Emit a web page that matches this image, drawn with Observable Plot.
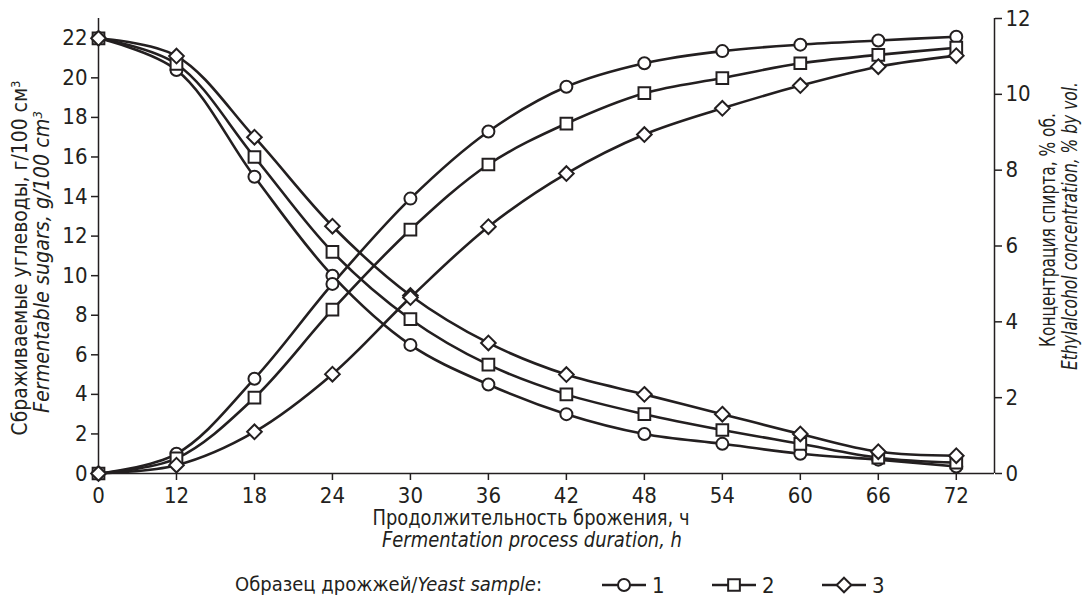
<!DOCTYPE html>
<html>
<head>
<meta charset="utf-8">
<script src="https://cdn.jsdelivr.net/npm/d3@7"></script>
<script src="https://cdn.jsdelivr.net/npm/@observablehq/plot@0.6"></script>
<style>
  html, body { margin: 0; padding: 0; background: #fff; }
  #chart { width: 1085px; }
  svg text { fill: #231f20; }
</style>
</head>
<body>
<div id="chart"></div>
<script>
// ---- data ----
const hours = [0, 12, 18, 24, 30, 36, 42, 48, 54, 60, 66, 72];
const sugar1 = [22, 20.4, 15.0, 10.0, 6.5, 4.5, 3.0, 2.0, 1.5, 1.0, 0.7, 0.35];
const sugar2 = [22, 20.7, 16.0, 11.2, 7.8, 5.5, 4.0, 3.0, 2.2, 1.5, 0.8, 0.55];
const sugar3 = [22, 21.1, 17.0, 12.5, 9.0, 6.6, 5.0, 4.0, 3.0, 2.0, 1.1, 0.9];
const alcohol1 = [0, 0.52, 2.5, 5.0, 7.25, 9.02, 10.2, 10.82, 11.14, 11.31, 11.42, 11.52];
const alcohol2 = [0, 0.4, 2.0, 4.32, 6.43, 8.15, 9.23, 10.03, 10.43, 10.82, 11.04, 11.23];
const alcohol3 = [0, 0.22, 1.1, 2.62, 4.64, 6.51, 7.91, 8.94, 9.63, 10.23, 10.73, 11.02];
const leftTicks = [0, 2, 4, 6, 8, 10, 12, 14, 16, 18, 20, 22];
const rightTicks = [0, 2, 4, 6, 8, 10, 12];
const sampleNames = ["1", "2", "3"];
const symbols = ["circle", "square", "diamond2"];

const leftMax = 23, rightMax = 12;
const K = leftMax / rightMax; // alcohol -> left scale

const rows = hours.map((h, i) => ({
  i, h,
  s1: sugar1[i], s2: sugar2[i], s3: sugar3[i],
  a1: alcohol1[i] * K, a2: alcohol2[i] * K, a3: alcohol3[i] * K
}));

const FONT = "'Liberation Sans Narrow', 'DejaVu Sans Condensed', 'Roboto', sans-serif";
const INK = "#231f20";
const W = 1085, H = 555;
const xMax = 11.49;

const series = [
  {y: "s1", sym: "circle", r: 6},
  {y: "s2", sym: "square", r: 6.6},
  {y: "s3", sym: "diamond2", r: 6.6},
  {y: "a1", sym: "circle", r: 6},
  {y: "a2", sym: "square", r: 6.6},
  {y: "a3", sym: "diamond2", r: 6.6}
];

const chart = Plot.plot({
  width: W,
  height: H,
  marginLeft: 98,
  marginRight: 91,
  marginTop: 18,
  marginBottom: H - 473,
  style: {fontFamily: FONT, fontSize: "22px", color: INK, background: "#fff", overflow: "visible"},
  x: {domain: [0, xMax]},
  y: {domain: [0, leftMax]},
  marks: [
    Plot.ruleY([0], {stroke: INK, strokeWidth: 1.5}),
    Plot.ruleX([0, xMax], {stroke: INK, strokeWidth: 1.5}),
    Plot.axisX(hours.map((h, i) => i), {
      tickFormat: i => hours[i], tickSize: 7, tickPadding: 7, label: null,
      stroke: INK, strokeWidth: 1.5, fontSize: 22
    }),
    Plot.axisY(leftTicks, {
      anchor: "left", tickSize: 7, tickPadding: 4, label: null,
      stroke: INK, strokeWidth: 1.5, fontSize: 22
    }),
    Plot.axisY(rightTicks.map(v => v * K), {
      anchor: "right", tickSize: 7, tickPadding: 4, label: null,
      tickFormat: v => Math.round(v / K),
      stroke: INK, strokeWidth: 1.5, fontSize: 22
    }),
    ...series.map(s => Plot.line(rows, {
      x: "i", y: s.y, curve: "catmull-rom", stroke: INK, strokeWidth: 2.6
    })),
    ...series.map(s => Plot.dot(rows, {
      x: "i", y: s.y, symbol: s.sym, r: s.r, fill: "white", stroke: INK, strokeWidth: 2
    }))
  ]
});

document.getElementById("chart").appendChild(chart);

// ---- axis titles ----
const svg = d3.select(chart);
const t = svg.append("g").attr("font-family", FONT).attr("fill", INK);

function addParts(txt, parts, size) {
  parts.forEach(p => {
    const ts = txt.append("tspan").text(p.t);
    if (p.i) ts.attr("font-style", "italic");
    if (p.sup) ts.attr("baseline-shift", "super").attr("font-size", size * 0.62);
  });
}
function rotLabel(x, y, parts, size, len) {
  const txt = t.append("text")
    .attr("transform", `translate(${x},${y}) rotate(-90)`)
    .attr("text-anchor", "middle")
    .attr("font-size", size)
    .attr("textLength", len).attr("lengthAdjust", "spacingAndGlyphs");
  addParts(txt, parts, size);
}
function hLabel(x, y, parts, size, len) {
  const txt = t.append("text")
    .attr("x", x).attr("y", y)
    .attr("text-anchor", "middle")
    .attr("font-size", size)
    .attr("textLength", len).attr("lengthAdjust", "spacingAndGlyphs");
  addParts(txt, parts, size);
}

rotLabel(27, 258, [{t: "Сбраживаемые углеводы, г/100 см"}, {t: "3", sup: true}], 21, 355);
rotLabel(49, 262, [{t: "Fermentable sugars, g/100 cm", i: true}, {t: "3", sup: true, i: true}], 21, 302);
rotLabel(1055, 230, [{t: "Концентрация спирта, % об."}], 21, 234);
rotLabel(1077, 226, [{t: "Ethylalcohol concentration, % by vol.", i: true}], 21, 288);
hLabel(531, 525, [{t: "Продолжительность брожения, ч"}], 21, 317);
hLabel(532, 547, [{t: "Fermentation process duration, h", i: true}], 21, 300);

// ---- legend ----
const leg = d3.select("#chart").append("svg")
  .attr("width", W).attr("height", 48)
  .style("display", "block")
  .attr("font-family", FONT);
const lt = leg.append("text").attr("x", 235).attr("y", 36).attr("font-size", 20).attr("fill", INK);
lt.append("tspan").text("Образец дрожжей/");
lt.append("tspan").text("Yeast sample").attr("font-style", "italic");
lt.append("tspan").text(":");

const legX = [602, 712, 822];
const symGen = {
  circle: d3.symbol(d3.symbolCircle, Math.PI * 36),
  square: d3.symbol(d3.symbolSquare, Math.PI * 6.6 * 6.6),
  diamond2: d3.symbol(d3.symbolDiamond2, Math.PI * 6.6 * 6.6)
};
sampleNames.forEach((name, k) => {
  const x0 = legX[k];
  const g = leg.append("g");
  g.append("line").attr("x1", x0).attr("x2", x0 + 44).attr("y1", 30).attr("y2", 30)
    .attr("stroke", INK).attr("stroke-width", 2.6);
  g.append("path").attr("d", symGen[symbols[k]]())
    .attr("transform", `translate(${x0 + 22},30)`)
    .attr("fill", "white").attr("stroke", INK).attr("stroke-width", 2);
  g.append("text").attr("x", x0 + 50).attr("y", 38).attr("font-size", 22).attr("fill", INK).text(name);
});
</script>
</body>
</html>
